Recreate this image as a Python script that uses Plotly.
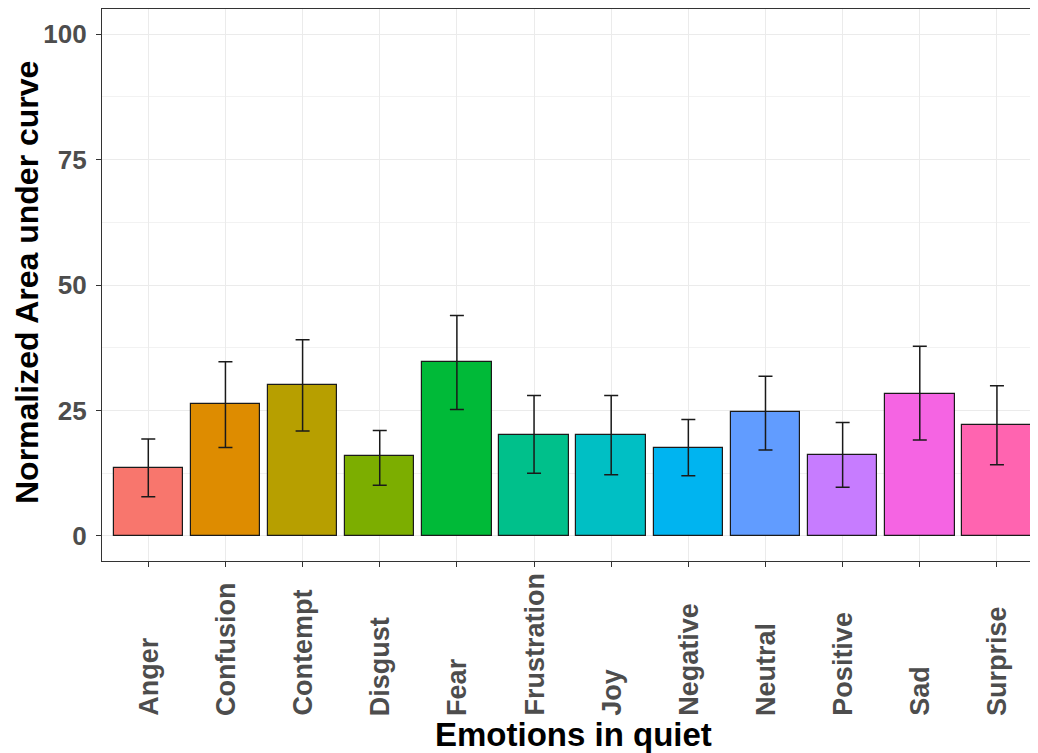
import plotly.graph_objects as go

categories = ["Anger", "Confusion", "Contempt", "Disgust", "Fear", "Frustration",
              "Joy", "Negative", "Neutral", "Positive", "Sad", "Surprise"]
means = [13.6, 26.2, 30.1, 15.9, 34.7, 20.1, 20.1, 17.5, 24.6, 16.1, 28.2, 22.2]
err_upper = [19.3, 34.7, 39.1, 21.0, 43.9, 28.0, 28.0, 23.2, 31.8, 22.6, 37.8, 29.9]
err_lower = [7.8, 17.6, 20.9, 10.1, 25.2, 12.5, 12.2, 12.0, 17.1, 9.7, 19.1, 14.2]
colors = ["#F8766D", "#DE8C00", "#B79F00", "#7CAE00", "#00BA38", "#00C08B",
          "#00BFC4", "#00B4F0", "#619CFF", "#C77CFF", "#F564E3", "#FF64B0"]
y_ticks = [0, 25, 50, 75, 100]

xpos = list(range(1, len(categories) + 1))
plus = [u - m for u, m in zip(err_upper, means)]
minus = [m - l for m, l in zip(means, err_lower)]

fig = go.Figure()
fig.add_trace(go.Bar(
    x=xpos, y=means, width=0.9,
    marker=dict(color=colors, line=dict(color="#1a1a1a", width=1.2)),
    error_y=dict(type="data", symmetric=False, array=plus, arrayminus=minus,
                 color="#1a1a1a", thickness=1.5, width=7),
    showlegend=False, hoverinfo="x+y",
))

OFF = 8  # page body margin
W, H = 1038 - OFF, 753 - OFF
L, R, T, B = 102 - OFF, 0, 8 - OFF + 1, H - (561 - OFF)
pw, ph = W - L - R, H - T - B

def py(screen_y):
    return (H - B - (screen_y - OFF)) / ph

def px(screen_x):
    return (screen_x - OFF - L) / pw

annotations = []
for xi, cat in zip(xpos, categories):
    annotations.append(dict(
        x=xi, xref="x", y=py(718), yref="paper",
        text=cat, textangle=-90, showarrow=False,
        xanchor="center", yanchor="bottom",
        font=dict(family="Liberation Sans, Arial", size=27, color="#4D4D4D", weight="bold"),
    ))
annotations.append(dict(
    x=px(573), xref="paper", y=py(734), yref="paper",
    text="Emotions in quiet", showarrow=False, xanchor="center", yanchor="middle",
    font=dict(family="Liberation Sans, Arial", size=33, color="black", weight="bold"),
))
annotations.append(dict(
    x=px(27), xref="paper", y=py(283), yref="paper",
    text="Normalized Area under curve", textangle=-90, showarrow=False,
    xanchor="center", yanchor="middle",
    font=dict(family="Liberation Sans, Arial", size=32, color="black", weight="bold"),
))

fig.update_layout(
    width=W, height=H,
    margin=dict(l=L, r=R, t=T, b=B, pad=0),
    plot_bgcolor="white", paper_bgcolor="white",
    bargap=0,
    annotations=annotations,
    font=dict(family="Liberation Sans, Arial"),
)
x_unit = 77.15
fig.update_xaxes(
    range=[0.4, 0.4 + pw / x_unit],
    tickvals=xpos, ticktext=[""] * len(xpos),
    showgrid=True, gridcolor="#EBEBEB", gridwidth=1.2,
    showline=True, linecolor="#333333", linewidth=1.3, mirror=True,
    ticks="outside", ticklen=5, tickcolor="#333333", tickwidth=1.1,
    zeroline=False,
)
fig.update_yaxes(
    range=[-5, 105],
    tickvals=y_ticks, ticktext=[str(v) for v in y_ticks],
    tickfont=dict(size=26, color="#4D4D4D", weight="bold"),
    ticklabelstandoff=4,
    showgrid=True, gridcolor="#EBEBEB", gridwidth=1.2,
    minor=dict(tickvals=[12.5, 37.5, 62.5, 87.5], showgrid=True, gridcolor="#F2F2F2", gridwidth=0.8, ticks=""),
    showline=True, linecolor="#333333", linewidth=1.3,
    ticks="outside", ticklen=5, tickcolor="#333333", tickwidth=1.1,
    zeroline=False,
)

fig.write_html("out.html")
